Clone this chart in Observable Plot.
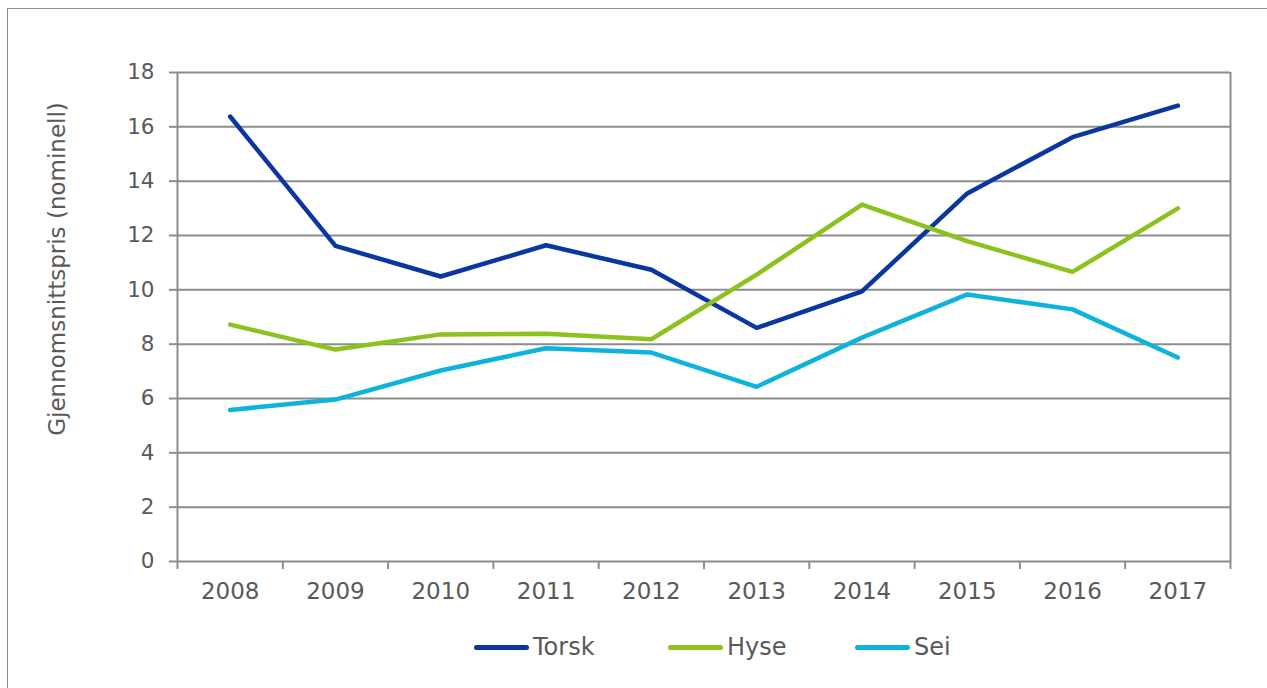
<!DOCTYPE html>
<html>
<head>
<meta charset="utf-8">
<script src="https://cdn.jsdelivr.net/npm/d3@7"></script>
<script src="https://cdn.jsdelivr.net/npm/@observablehq/plot@0.6"></script>
<style>
  html, body { margin: 0; padding: 0; background: #fff; }
  body { width: 1267px; height: 688px; position: relative; overflow: hidden; font-family: "DejaVu Sans", Verdana, sans-serif; }
  #frame { position: absolute; left: 7px; top: 8px; width: 1270px; height: 700px; border: 1px solid #8c8c8c; box-sizing: border-box; pointer-events: none; }
  #chart { position: absolute; left: 0; top: 0; }
  #legend { position: absolute; left: 0; top: 634px; width: 1267px; height: 26px; }
  .item { position: absolute; top: 0; display: flex; align-items: center; height: 26px; font-size: 24px; color: #595959; }
  .swatch { width: 55px; height: 5px; border-radius: 3px; margin-right: 4px; }
</style>
</head>
<body>
<div id="chart"></div>
<div id="legend"></div>
<div id="frame"></div>
<script>
const years = [2008, 2009, 2010, 2011, 2012, 2013, 2014, 2015, 2016, 2017];
const torsk = [16.38, 11.62, 10.49, 11.64, 10.74, 8.6, 9.94, 13.55, 15.62, 16.78];
const hyse  = [8.72, 7.8, 8.36, 8.38, 8.18, 10.56, 13.14, 11.79, 10.66, 13.0];
const sei   = [5.58, 5.96, 7.03, 7.85, 7.69, 6.43, 8.24, 9.83, 9.28, 7.51];
const seriesNames = ["Torsk", "Hyse", "Sei"];
const seriesColors = ["#0a36a1", "#8cc11e", "#0db3dc"];
const yTicks = [0, 2, 4, 6, 8, 10, 12, 14, 16, 18];
const yLabel = "Gjennomsnittspris (nominell)";

const seriesValues = [torsk, hyse, sei];
const data = [];
seriesNames.forEach((name, i) => {
  years.forEach((yr, j) => data.push({ series: name, year: yr, value: seriesValues[i][j] }));
});
const boundaries = years.map(y => y - 0.5).concat([years[years.length - 1] + 0.5]);

const grid = "#8c8c8c";
const textColor = "#595959";

const plot = Plot.plot({
  width: 1267,
  height: 620,
  marginLeft: 177,
  marginRight: 37,
  marginTop: 72,
  marginBottom: 59,
  style: { fontFamily: "DejaVu Sans, Verdana, sans-serif", fontSize: "22px", color: textColor, background: "transparent" },
  x: { type: "linear", domain: [boundaries[0], boundaries[boundaries.length - 1]] },
  y: { domain: [0, 18] },
  color: { domain: seriesNames, range: seriesColors },
  marks: [
    Plot.gridY(yTicks, { stroke: grid, strokeOpacity: 1, strokeWidth: 2 }),
    Plot.ruleX([boundaries[0], boundaries[boundaries.length - 1]], { stroke: grid, strokeWidth: 2 }),
    Plot.axisY(yTicks, { tickSize: 8, tickPadding: 15, stroke: grid, strokeWidth: 2, fill: textColor, fontSize: 21.5, label: null }),
    Plot.axisX(boundaries, { tickSize: 8, tickFormat: () => "", stroke: grid, strokeWidth: 2, label: null }),
    Plot.axisX(years, { tickSize: 0, tickPadding: 21, tickFormat: d => String(d), fill: textColor, fontSize: 23, label: null }),
    Plot.text([yLabel], { frameAnchor: "left", textAnchor: "middle", rotate: -90, dx: -120, dy: -48, fill: textColor, fontSize: 23 }),
    Plot.line(data, { x: "year", y: "value", z: "series", stroke: "series", strokeWidth: 4.5, strokeLinecap: "round", strokeLinejoin: "round" })
  ]
});
document.getElementById("chart").appendChild(plot);

const legendLeft = [474, 668, 855];
const legend = document.getElementById("legend");
seriesNames.forEach((name, i) => {
  const item = document.createElement("div");
  item.className = "item";
  item.style.left = legendLeft[i] + "px";
  const sw = document.createElement("div");
  sw.className = "swatch";
  sw.style.background = seriesColors[i];
  item.appendChild(sw);
  const t = document.createElement("span");
  t.textContent = name;
  item.appendChild(t);
  legend.appendChild(item);
});
</script>
</body>
</html>
